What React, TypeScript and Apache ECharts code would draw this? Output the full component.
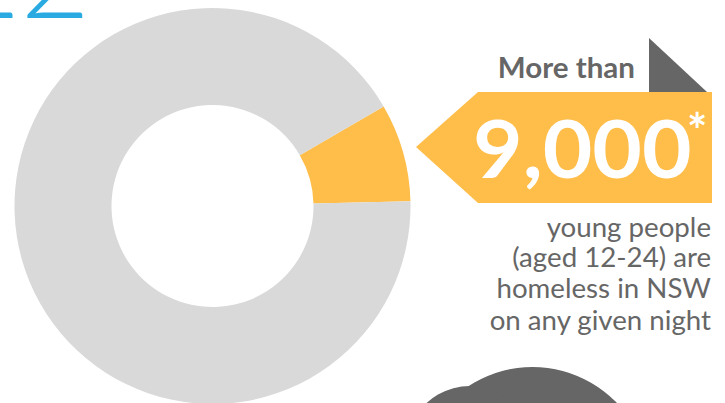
import React, { useEffect, useRef } from "react";
import * as echarts from "echarts";

const categories = ["Homeless young people (aged 12-24)", "Rest"];
const shares = [8, 92];
const sliceColors = ["#FFBD4A", "#D9D9D9"];
const headline = "More than";
const bigNumber = "9,000";
const note = "*";
const captionLines = ["young people", "(aged 12-24) are", "homeless in NSW", "on any given night"];
const cornerText = "22";

const FONT = "Lato, 'Open Sans', sans-serif";

export default function App() {
  const ref = useRef<HTMLDivElement>(null);
  useEffect(() => {
    if (!ref.current) return;
    const chart = echarts.init(ref.current, null, { renderer: "svg" });
    const captionTops = [213, 243, 274, 306];
    chart.setOption({
      animation: false,
      backgroundColor: "#ffffff",
      series: [
        {
          type: "pie",
          center: [212.5, 206],
          radius: [101, 198],
          startAngle: 30.2,
          clockwise: true,
          silent: true,
          label: { show: false },
          labelLine: { show: false },
          emphasis: { disabled: true },
          data: categories.map((c, i) => ({
            name: c,
            value: shares[i],
            itemStyle: { color: sliceColors[i] },
          })),
        },
      ],
      graphic: [
        {
          type: "text",
          x: 90,
          y: -88,
          style: {
            x: 0,
            y: 0,
            text: cornerText,
            fill: "#29ABE2",
            font: `300 120px ${FONT}`,
            textAlign: "right",
            textVerticalAlign: "top",
          },
        },
        {
          type: "polygon",
          shape: { points: [[649, 38], [649, 92], [707, 92]] },
          style: { fill: "#666666" },
        },
        {
          type: "polygon",
          shape: { points: [[416, 147], [478, 92], [712, 92], [712, 203], [478, 203]] },
          style: { fill: "#FFBD4A" },
        },
        {
          type: "text",
          x: 635,
          y: 53,
          scaleX: 1.055,
          style: {
            x: 0,
            y: 0,
            text: headline,
            fill: "#666666",
            font: `bold 28px ${FONT}`,
            textAlign: "right",
            textVerticalAlign: "top",
          },
        },
        {
          type: "text",
          x: 473,
          y: 107,
          scaleX: 1.07,
          style: {
            x: 0,
            y: 0,
            text: bigNumber,
            fill: "#ffffff",
            font: `bold 80px ${FONT}`,
            textAlign: "left",
            textVerticalAlign: "top",
          },
        },
        {
          type: "text",
          x: 687,
          y: 105,
          style: {
            x: 0,
            y: 0,
            text: note,
            fill: "#ffffff",
            font: `bold 48px ${FONT}`,
            textAlign: "left",
            textVerticalAlign: "top",
          },
        },
        ...captionLines.map((t, i) => ({
          type: "text",
          x: 711,
          y: captionTops[i],
          scaleX: 1.025,
          style: {
            x: 0,
            y: 0,
            text: t,
            fill: "#666666",
            font: `27px ${FONT}`,
            textAlign: "right",
            textVerticalAlign: "top",
          },
        })),
        {
          type: "circle",
          shape: { cx: 532.5, cy: 484, r: 117 },
          style: { fill: "#666666" },
        },
        {
          type: "circle",
          shape: { cx: 470, cy: 450, r: 64 },
          style: { fill: "#666666" },
        },
      ],
    });
    return () => chart.dispose();
  }, []);
  return (
    <div
      ref={ref}
      style={{ position: "absolute", left: 0, top: 0, width: 725, height: 403 }}
    />
  );
}
